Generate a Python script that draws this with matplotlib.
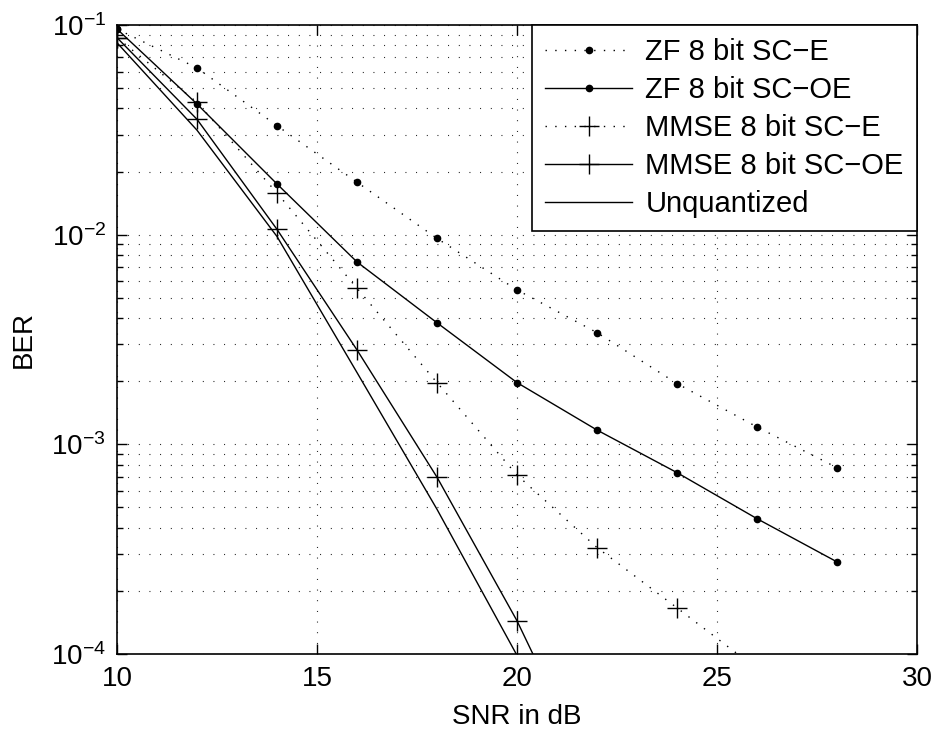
import matplotlib
matplotlib.use("Agg")
import matplotlib.pyplot as plt
from matplotlib.ticker import LogLocator, FixedLocator, NullFormatter

plt.rcParams['font.family'] = ['Liberation Sans', 'DejaVu Sans']
plt.rcParams['mathtext.fontset'] = 'custom'
plt.rcParams['mathtext.rm'] = 'Liberation Sans'
plt.rcParams['mathtext.it'] = 'Liberation Sans'
plt.rcParams['mathtext.default'] = 'regular'

snr = [10, 12, 14, 16, 18, 20, 22, 24, 26, 28]
zf_sce = [0.0957, 0.0624, 0.0331, 0.0178, 0.0096, 0.00545, 0.00341, 0.00195, 0.00121, 0.000774]
zf_scoe = [0.0957, 0.042, 0.01745, 0.00741, 0.0038, 0.00197, 0.00117, 0.000733, 0.000442, 0.000275]
mmse_snr = [10, 12, 14, 16, 18, 20, 22, 24, 26]
mmse_sce = [0.087, 0.0428, 0.0158, 0.00555, 0.00197, 0.000714, 0.000322, 0.000166, 0.000085]
mmse_oe_snr = [10, 12, 14, 16, 18, 20, 22]
mmse_scoe = [0.087, 0.0355, 0.0106, 0.00282, 0.000697, 0.000144, 0.000023]
unq_snr = [10, 12, 14, 16, 18, 20, 22]
unq = [0.0823, 0.0315, 0.0098, 0.0022, 0.00049, 0.0000985, 0.000018]

labels = ['ZF 8 bit SC\u2212E', 'ZF 8 bit SC\u2212OE', 'MMSE 8 bit SC\u2212E',
          'MMSE 8 bit SC\u2212OE', 'Unquantized']

fig = plt.figure(figsize=(9.37, 7.33), dpi=100)
ax = fig.add_axes([117/937, 1-654/733, 800/937, 629/733])

dot_ls = (0, (1, 6))
ax.plot(snr, zf_sce, color='k', lw=1.0, ls=dot_ls, marker='.', ms=9, label=labels[0])
ax.plot(snr, zf_scoe, color='k', lw=1.0, ls='-', marker='.', ms=9, label=labels[1])
ax.plot(mmse_snr, mmse_sce, color='k', lw=1.0, ls=dot_ls, marker='+', ms=14, mew=1.0, label=labels[2])
ax.plot(mmse_oe_snr, mmse_scoe, color='k', lw=1.0, ls='-', marker='+', ms=14, mew=1.0, label=labels[3])
ax.plot(unq_snr, unq, color='k', lw=1.0, ls='-', label=labels[4])

ax.set_yscale('log')
ax.set_xlim(10, 30)
ax.set_ylim(1e-4, 1e-1)
ax.xaxis.set_major_locator(FixedLocator([10, 15, 20, 25, 30]))
ax.yaxis.set_major_locator(LogLocator(base=10, numticks=10))
ax.yaxis.set_minor_locator(LogLocator(base=10, subs=range(2, 10), numticks=10))
ax.yaxis.set_minor_formatter(NullFormatter())
ax.set_yticks([1e-4, 1e-3, 1e-2, 1e-1])
ax.set_yticklabels(['$10^{-4}$', '$10^{-3}$', '$10^{-2}$', '$10^{-1}$'])

grid_ls = (0, (0.8, 8.8))
ax.grid(True, which='major', axis='both', color='k', lw=0.8, ls=grid_ls)
ax.grid(True, which='minor', axis='y', color='k', lw=0.8, ls=grid_ls)

ax.tick_params(which='both', direction='in', top=True, right=True, labelsize=20, width=1.0)
ax.tick_params(which='major', length=7, pad=8)
ax.tick_params(axis='x', which='major', pad=9)
ax.tick_params(which='minor', length=4)
for s in ax.spines.values():
    s.set_linewidth(1.2)

ax.set_xlabel('SNR in dB', fontsize=20, labelpad=8)
ax.set_ylabel('BER', fontsize=20, labelpad=10)

leg = ax.legend(loc='upper right', borderaxespad=0, fontsize=21, fancybox=False,
                framealpha=1, edgecolor='k', handlelength=3.0, handletextpad=0.45,
                labelspacing=0.34, borderpad=0.45)
leg.get_frame().set_linewidth(1.2)

fig.savefig('out.png', dpi=100)
